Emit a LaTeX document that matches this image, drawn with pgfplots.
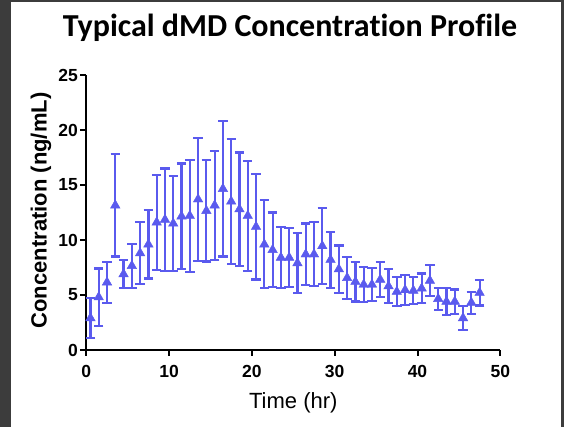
\documentclass[border=0pt]{standalone}
\usepackage{pgfplots}
\pgfplotsset{compat=1.18}
\usepackage{pgfplotstable}
\usepackage{fontspec}
\setmainfont{Liberation Sans}
\newfontfamily\titlefont[Ligatures=NoCommon, Contextuals=NoAlternate]{Carlito}
\definecolor{ser}{RGB}{90,90,238}
\definecolor{framec}{RGB}{60,60,60}
\pgfplotstableread{
x y e
0.5 2.9 1.8
1.5 4.8 2.6
2.5 6.15 1.85
3.5 13.15 4.65
4.5 6.9 1.3
5.5 7.65 2.0
6.5 8.8 2.8
7.5 9.6 3.1
8.5 11.6 4.3
9.5 11.85 4.65
10.5 11.5 4.3
11.5 12.15 4.8
12.5 12.2 5.1
13.5 13.7 5.6
14.5 12.65 4.6
15.5 13.15 4.95
16.5 14.65 6.15
17.5 13.5 5.7
18.5 12.8 5.15
19.5 12.2 5.0
20.5 11.2 4.8
21.5 9.6 4.0
22.5 9.1 3.4
23.5 8.4 2.8
24.5 8.4 2.7
25.5 7.9 2.7
26.5 8.7 2.8
27.5 8.7 2.9
28.5 9.45 3.45
29.5 8.2 2.55
30.5 7.35 2.15
31.5 6.55 1.9
32.5 6.2 1.8
33.5 5.95 1.6
34.5 5.95 1.5
35.5 6.4 1.6
36.5 5.8 1.55
37.5 5.3 1.3
38.5 5.45 1.35
39.5 5.4 1.2
40.5 5.6 1.35
41.5 6.3 1.4
42.5 4.65 1.0
43.5 4.4 1.2
44.5 4.4 1.1
45.5 2.9 1.1
46.5 4.3 1.0
47.5 5.2 1.15
}\data
\begin{document}
\begin{tikzpicture}[x=1pt,y=1pt]
\fill[framec] (0,0) rectangle (564,427);
\fill[white] (11,0) rectangle (560.5,425);
\begin{axis}[
  at={(86.3pt,77pt)}, anchor=south west,
  scale only axis, width=414pt, height=275pt,
  xmin=0, xmax=50, ymin=0, ymax=25,
  axis x line*=bottom, axis y line*=left,
  axis line style={line width=2pt, black},
  xtick={0,10,...,50}, ytick={0,5,...,25},
  tick align=outside, major tick length=6pt,
  tick style={line width=2pt, black},
  /pgf/number format/assume math mode=true,
  tick label style={font=\bfseries\fontsize{17.5}{17.5}\selectfont},
  xticklabel style={yshift=-6pt},
  yticklabel style={xshift=1pt},
  clip=false,
]
\addplot[ser, only marks, mark=triangle*, mark size=5.5pt,
  error bars/.cd, y dir=both, y explicit,
  error bar style={line width=2.2pt, ser},
  error mark options={ser, rotate=90, mark size=4.7pt, line width=2.2pt}]
  table[x=x, y=y, y error=e] {\data};
\end{axis}
\node[anchor=base, font=\titlefont\bfseries\fontsize{32}{32}\selectfont] at (290,390) {Typical dMD Concentration Profile};
\node[anchor=base, font=\fontsize{22}{22}\selectfont] at (293.3,18.7) {Time (hr)};
\node[rotate=90, anchor=base, font=\bfseries\fontsize{22}{22}\selectfont] at (46.7,216.5) {Concentration (ng/mL)};
\end{tikzpicture}
\end{document}
